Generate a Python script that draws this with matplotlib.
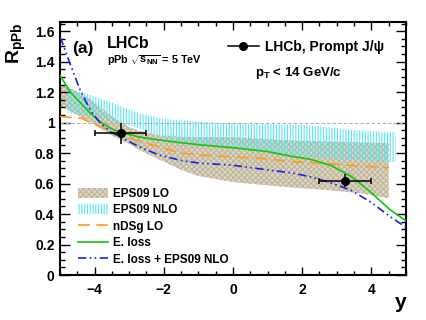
import numpy as np
import matplotlib
matplotlib.use('Agg')
import matplotlib.pyplot as plt
from matplotlib.patches import Patch
from matplotlib.lines import Line2D

plt.rcParams['font.family'] = ['Liberation Sans', 'DejaVu Sans']
plt.rcParams['font.weight'] = 'bold'
plt.rcParams['mathtext.fontset'] = 'custom'
plt.rcParams['mathtext.rm'] = 'Liberation Sans:bold'
plt.rcParams['mathtext.it'] = 'Liberation Sans:bold'
plt.rcParams['mathtext.bf'] = 'Liberation Sans:bold'
plt.rcParams['hatch.linewidth'] = 0.8

# LHCb prompt J/psi points
y_pts = [-3.25, 3.25]
r_pts = [0.93, 0.62]
y_err = [0.75, 0.75]
r_err = [0.07, 0.04]

# EPS09 LO band
lo_x = [-5, -4.7, -4.1, -3.5, -3.0, -2.7, -2.1, -1.5, -1.0, 0, 1.4, 2.8, 3.7, 4.5]
lo_up = [1.25, 1.225, 1.15, 1.04, 0.97, 0.945, 0.915, 0.907, 0.905, 0.905, 0.885, 0.875, 0.87, 0.865]
lo_dn = [1.11, 1.075, 1.0, 0.915, 0.86, 0.82, 0.755, 0.69, 0.65, 0.61, 0.58, 0.556, 0.537, 0.503]

# EPS09 NLO band
nlo_x = [-4.78, -4.1, -3.5, -2.7, -2.0, -1.5, -0.5, 0, 1.0, 2.0, 2.7, 3.5, 4.7]
nlo_up = [1.226, 1.18, 1.13, 1.06, 1.025, 1.015, 1.0, 0.995, 0.99, 0.985, 0.97, 0.95, 0.935]
nlo_dn = [1.06, 1.05, 1.015, 0.96, 0.90, 0.875, 0.85, 0.84, 0.81, 0.78, 0.765, 0.755, 0.74]

# nDSg LO
nds_x = [-5, -4.7, -4.4, -4.1, -3.8, -3.5, -3.0, -2.67, -2.2, -1.8, -1.5, -0.8, 0, 0.8, 1.66, 2.8, 3.6, 4.5]
nds_y = [1.04, 1.035, 1.03, 0.997, 0.97, 0.94, 0.9, 0.875, 0.845, 0.82, 0.80, 0.785, 0.775, 0.765, 0.745, 0.73, 0.715, 0.705]

# energy loss
el_x = [-5, -4.7, -4.41, -4.12, -3.83, -3.54, -3.25, -2.7, -2.1, -1.5, -1.0, 0, 1.0, 1.66, 2.24,
        2.82, 3.4, 3.97, 4.55, 5]
el_y = [1.31, 1.20, 1.13, 1.06, 1.005, 0.963, 0.935, 0.905, 0.885, 0.868, 0.855, 0.835, 0.81, 0.78,
        0.759, 0.72, 0.65, 0.546, 0.426, 0.356]

# energy loss + EPS09 NLO
eln_x = [-5, -4.94, -4.7, -4.41, -4.12, -3.83, -3.54, -3.25, -3.0, -2.6, -2.1, -1.5, -1.0, 0, 1.0,
         1.66, 2.24, 2.82, 3.4, 3.97, 4.55, 5]
eln_y = [1.56, 1.53, 1.38, 1.21, 1.08, 0.995, 0.94, 0.905, 0.875, 0.83, 0.785, 0.752, 0.735, 0.72,
         0.69, 0.671, 0.645, 0.605, 0.557, 0.48, 0.382, 0.313]

c_lo_face, c_lo_hatch = '#ddd6c3', '#beb59b'
c_nlo = '#5ae6f2'
c_nds = '#ff9a1a'
c_el = '#11c411'
c_eln = '#1a22e6'

fig = plt.figure(figsize=(4.27, 3.2), dpi=100)
ax = fig.add_axes([0.1405, 0.1406, 0.8103, 0.7906])

ax.fill_between(lo_x, lo_dn, lo_up, facecolor=c_lo_face, edgecolor=c_lo_hatch,
                hatch='xxxxxx', linewidth=0, zorder=1)
ax.fill_between(nlo_x, nlo_dn, nlo_up, facecolor='none', edgecolor=c_nlo,
                hatch='||||||', linewidth=0, zorder=2)
ax.axhline(1.0, color='#b0b0b0', lw=0.8, ls=(0, (3, 2)), zorder=2)
ax.plot(nds_x, nds_y, color=c_nds, lw=1.2, ls=(0, (7, 4)), zorder=3)
ax.plot(el_x, el_y, color=c_el, lw=1.2, zorder=3)
ax.plot(eln_x, eln_y, color=c_eln, lw=1.2, ls=(0, (5, 2, 1, 2, 1, 2)), zorder=3)

ax.errorbar(y_pts, r_pts, yerr=r_err, fmt='none', ecolor='black', elinewidth=1.1,
            capsize=0, zorder=4)
ax.errorbar(y_pts, r_pts, xerr=y_err, fmt='o', color='black', ms=5.5,
            elinewidth=1.1, capsize=2.5, capthick=1.1, zorder=5)

ax.set_xlim(-5, 5)
ax.set_ylim(0, 1.66)
ax.set_xticks([-4, -2, 0, 2, 4])
ax.set_xticks(np.arange(-5, 5.01, 0.5), minor=True)
ax.set_yticks(np.arange(0, 1.61, 0.2))
ax.set_yticks(np.arange(0, 1.651, 0.05), minor=True)
ax.set_yticklabels(['0', '0.2', '0.4', '0.6', '0.8', '1', '1.2', '1.4', '1.6'])
ax.tick_params(which='both', direction='in', top=True, right=True, width=1.0)
ax.tick_params(axis='x', which='major', length=6, pad=6, labelsize=10)
ax.tick_params(axis='x', which='minor', length=3)
ax.tick_params(axis='y', which='major', length=7.5, pad=4, labelsize=10)
ax.tick_params(axis='y', which='minor', length=3.8)
for s in ax.spines.values():
    s.set_linewidth(1.5)

ax.text(-0.125, 1.0, r'R$_{\rm pPb}$', transform=ax.transAxes, rotation=90,
        ha='center', va='top', fontsize=14)
ax.text(1.0, -0.11, 'y', transform=ax.transAxes, ha='right', va='center', fontsize=15)

ax.text(0.036, 0.897, '(a)', transform=ax.transAxes, fontsize=12.5, va='center')
ax.text(0.136, 0.917, 'LHCb', transform=ax.transAxes, fontsize=11.5, va='center')
ax.text(0.136, 0.85, r'pPb $\sqrt{s_{\rm NN}}$ = 5 TeV', transform=ax.transAxes,
        fontsize=7.8, va='center')
ax.text(0.564, 0.798, r'p$_{\rm T}$ < 14 GeV/c', transform=ax.transAxes,
        fontsize=9.5, va='center')

pt_handle = Line2D([], [], color='black', marker='o', ms=5.5, lw=1.1)
leg1 = ax.legend([pt_handle], ['LHCb, Prompt J/ψ'], loc='upper left',
                 bbox_to_anchor=(0.486, 0.93), frameon=False, fontsize=10,
                 handlelength=2.2, handletextpad=0.45, borderpad=0, borderaxespad=0)
ax.add_artist(leg1)

handles = [
    Patch(facecolor=c_lo_face, edgecolor=c_lo_hatch, hatch='xxxxxx', linewidth=0),
    Patch(facecolor='none', edgecolor=c_nlo, hatch='||||||', linewidth=0),
    Line2D([], [], color=c_nds, lw=1.2, ls=(0, (7, 4))),
    Line2D([], [], color=c_el, lw=1.2),
    Line2D([], [], color=c_eln, lw=1.2, ls=(0, (5, 2, 1, 2, 1, 2))),
]
labels = ['EPS09 LO', 'EPS09 NLO', 'nDSg LO', 'E. loss', 'E. loss + EPS09 NLO']
ax.legend(handles, labels, loc='upper left', bbox_to_anchor=(0.052, 0.345),
          frameon=False, fontsize=8.5, handlelength=2.55, handleheight=0.9,
          handletextpad=0.42, labelspacing=0.38, borderpad=0, borderaxespad=0)

plt.savefig('out.png', dpi=100)
